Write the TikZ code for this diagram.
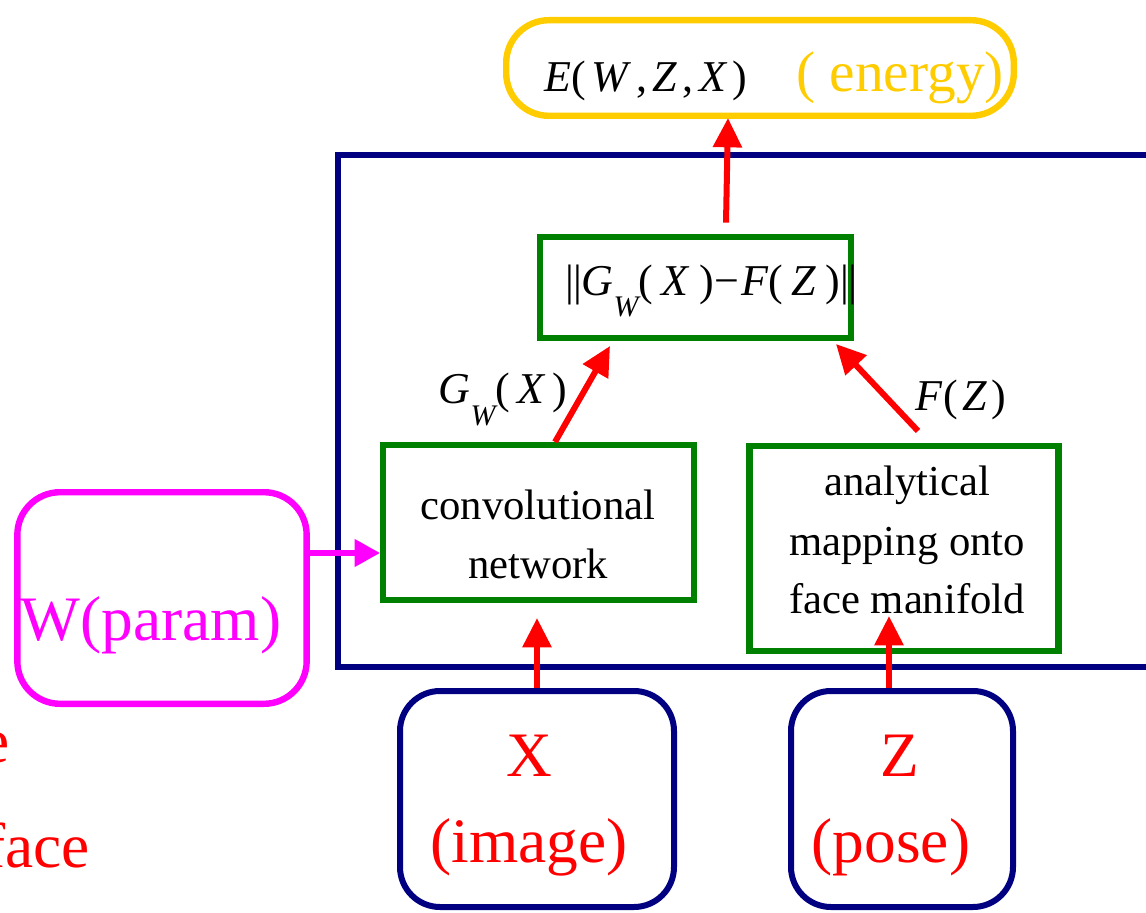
\documentclass[tikz,border=0pt]{standalone}
\usepackage{fontspec}
\setmainfont{Liberation Serif}
\usetikzlibrary{arrows.meta}
\definecolor{navyc}{HTML}{000080}
\definecolor{greenc}{HTML}{008000}
\definecolor{magc}{HTML}{FF00FF}
\definecolor{goldc}{HTML}{FFCC00}
\definecolor{redc}{HTML}{FF0000}
\newcommand{\mv}[1]{\textit{#1}}
\newcommand{\gp}[1][0.15em]{\hspace{#1}}
\newcommand{\subW}{\raisebox{-0.5em}{\fontsize{22.4}{24}\selectfont\itshape W}}
\begin{document}
\begin{tikzpicture}[x=0.75pt,y=-0.75pt,
  greenbox/.style={draw=greenc,line width=4.8pt,rectangle,inner sep=0pt},
  roundbox/.style={line width=4.8pt,rectangle,rounded corners=32pt,inner sep=0pt},
  navybox/.style={draw=navyc,line width=4.5pt,rectangle,rounded corners=30pt,inner sep=0pt},
  frame/.style={draw=navyc,line width=4.5pt,rectangle,inner sep=0pt},
  txt/.style={inner sep=0pt,anchor=base,font=\fontsize{32}{38}\selectfont},
  bigtxt/.style={inner sep=0pt,anchor=base,font=\fontsize{47.5}{56}\selectfont},
  mathtxt/.style={inner sep=0pt,anchor=base,font=\fontsize{33}{38}\selectfont},
  redarrow/.style={color=redc,line width=4.5pt,-{Triangle[width=21pt,length=22pt]}},
  magarrow/.style={color=magc,line width=3.8pt,-{Triangle[width=20pt,length=19pt]}},
]
\useasboundingbox (0,0) rectangle (1146,913);
\clip (0,0) rectangle (1146,913);

% big model frame (extends beyond the right edge)
\node[frame,minimum width=646.5pt,minimum height=384pt] (model) at (769,411) {};

% boxes
\node[roundbox,draw=goldc,minimum width=380.7pt,minimum height=71.7pt] (energy) at (760,68) {};
\node[greenbox,minimum width=233pt,minimum height=75.8pt] (dist) at (695.5,287.3) {};
\node[greenbox,minimum width=233pt,minimum height=116pt] (conv) at (538.5,522.5) {};
\node[greenbox,minimum width=232pt,minimum height=153.5pt] (anal) at (904,548.5) {};
\node[roundbox,draw=magc,minimum width=217pt,minimum height=158.7pt] (W) at (162,598) {};
\node[navybox,minimum width=205.5pt,minimum height=162pt] (X) at (537,799) {};
\node[navybox,minimum width=166.5pt,minimum height=162pt] (Z) at (902,799) {};

% texts
\node[mathtxt] (etxt) at (646,92) {\mv{E}(\gp[0.12em]\mv{W}\gp[0.12em],\gp[0.12em]\mv{Z}\gp[0.12em],\gp[0.12em]\mv{X}\gp[0.12em])};
\node[inner sep=0pt,anchor=base,font=\fontsize{43}{50}\selectfont,text=goldc] (elab) at (900,92) {(\ energy)};
\node[mathtxt] (dtxt) at (711,295) {|\kern-0.02em|\mv{G}\subW(\gp[0.2em]\mv{X}\gp[0.2em])\kern0.03em−\kern0.03em\mv{F}(\gp[0.2em]\mv{Z}\gp[0.2em])|\kern-0.02em|};
\node[mathtxt] (glab) at (503,403) {\mv{G}\subW(\gp[0.16em]\mv{X}\gp[0.16em])};
\node[mathtxt] (flab) at (961,410) {\mv{F}(\gp[0.1em]\mv{Z}\gp[0.1em])};
\node[txt] (conv1) at (538,519) {convolutional};
\node[txt] (conv2) at (538,578) {network};
\node[txt] (anal1) at (907,495) {analytical};
\node[txt] (anal2) at (907,555) {mapping onto};
\node[txt] (anal3) at (907,613) {face manifold};
\node[bigtxt,text=magc] (wtxt) at (151,640) {W(param)};
\node[bigtxt,text=redc] (xtxt) at (529,776) {X};
\node[bigtxt,text=redc] (xlab) at (529,862) {(image)};
\node[bigtxt,text=redc] (ztxt) at (900,776) {Z};
\node[bigtxt,text=redc] (zlab) at (891,862) {(pose)};
\node[bigtxt,text=redc,anchor=base east] (lefte) at (10,762) {e};
\node[bigtxt,text=redc,anchor=base east] (leftface) at (90,867) {face};

% connector ends
\coordinate (etip) at (728,118);
\coordinate (gtip) at (610,346);
\coordinate (ftip) at (836,344);
\coordinate (ztip) at (889,616);
\coordinate (wy) at (0,553);

% connectors
\draw[redarrow] ([shift={(30.5,-11)}]dist.north) -- (etip);
\draw[redarrow] ([xshift=12.4pt]conv.north) -- (gtip);
\draw[redarrow] ([shift={(14,-12)}]anal.north) -- (ftip);
\draw[redarrow,shorten >=11.25pt] (X.north) -- (X.north |- conv.south);
\draw[redarrow] (Z.north -| ztip) -- (ztip);
\draw[magarrow] (W.east |- wy) -- (conv.west |- wy);
\end{tikzpicture}
\end{document}
